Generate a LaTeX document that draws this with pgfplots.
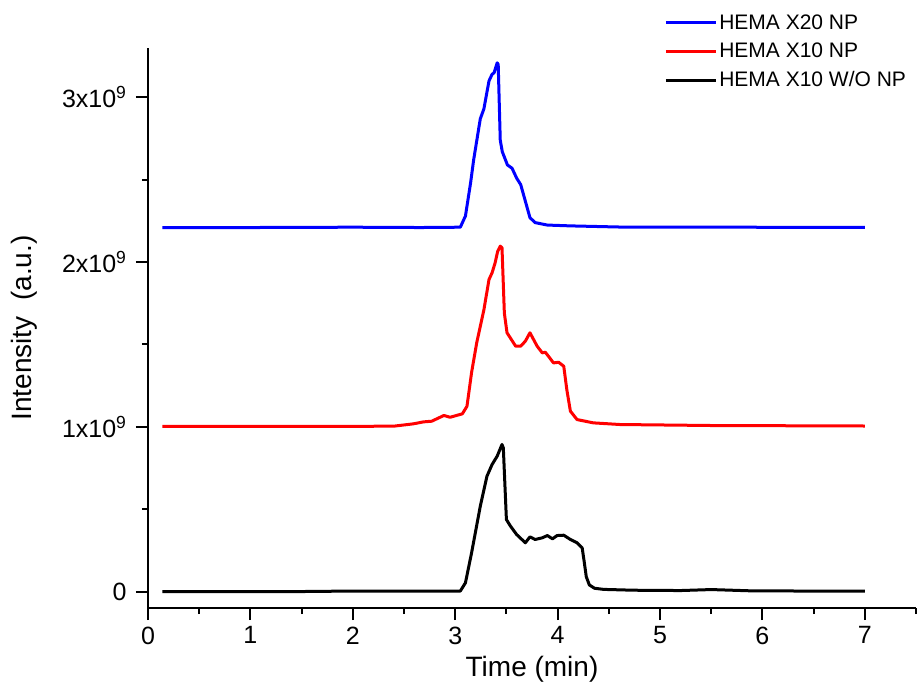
\documentclass[border=0pt]{standalone}
\usepackage{pgfplots}
\pgfplotsset{compat=1.18}
\usepackage{pgfplotstable}
\usepackage{fontspec}
\setmainfont{Liberation Sans}
\definecolor{cblue}{RGB}{0,0,255}
\definecolor{cred}{RGB}{255,0,0}
\pgfplotstableread{
x y
0.14 2.210
1.00 2.210
2.00 2.212
2.66 2.210
3.05 2.212
3.10 2.28
3.15 2.48
3.18 2.62
3.245 2.87
3.28 2.93
3.33 3.10
3.36 3.14
3.38 3.15
3.41 3.21
3.42 3.20
3.44 2.74
3.46 2.67
3.51 2.59
3.555 2.57
3.60 2.51
3.64 2.47
3.685 2.37
3.73 2.27
3.78 2.24
3.90 2.225
4.125 2.22
4.61 2.213
5.50 2.212
7.00 2.211
}\blueT
\pgfplotstableread{
x y
0.14 1.003
1.00 1.003
2.00 1.003
2.40 1.004
2.59 1.018
2.69 1.030
2.77 1.034
2.89 1.069
2.95 1.058
3.07 1.079
3.115 1.125
3.16 1.33
3.21 1.51
3.28 1.71
3.33 1.894
3.36 1.935
3.39 1.996
3.415 2.066
3.44 2.097
3.457 2.087
3.48 1.69
3.506 1.571
3.59 1.49
3.64 1.49
3.685 1.52
3.73 1.571
3.80 1.49
3.85 1.449
3.88 1.453
3.91 1.429
3.96 1.388
4.01 1.392
4.06 1.368
4.09 1.226
4.125 1.095
4.19 1.044
4.35 1.024
4.61 1.014
5.50 1.008
7.00 1.005
}\redT
\pgfplotstableread{
x y
0.14 0.000
1.50 0.000
2.00 0.003
2.46 0.003
3.05 0.003
3.10 0.053
3.16 0.235
3.245 0.518
3.31 0.700
3.36 0.771
3.41 0.822
3.457 0.893
3.47 0.872
3.50 0.437
3.54 0.397
3.60 0.346
3.685 0.296
3.73 0.332
3.78 0.316
3.85 0.326
3.90 0.340
3.95 0.320
3.995 0.340
4.06 0.342
4.125 0.316
4.19 0.296
4.24 0.265
4.26 0.180
4.28 0.090
4.31 0.040
4.36 0.020
4.45 0.013
4.74 0.008
5.20 0.006
5.50 0.012
5.90 0.004
7.00 0.002
}\blackT
\begin{document}
\begin{tikzpicture}
\begin{axis}[
  scale only axis, width=768pt, height=560pt,
  xmin=0, xmax=7.5, ymin=-0.1, ymax=3.3,
  axis x line*=bottom, axis y line*=left,
  axis line style={line width=2.2pt, black},
  tick style={line width=2pt, black},
  tick align=outside,
  major tick length=12pt, minor tick length=6pt,
  xtick={0,1,2,3,4,5,6,7},
  minor xtick={0.5,1.5,2.5,3.5,4.5,5.5,6.5,7.5},
  ytick={0,1,2,3},
  minor ytick={0.5,1.5,2.5},
  yticklabels={0,1x10\textsuperscript{9},2x10\textsuperscript{9},3x10\textsuperscript{9}},
  ticklabel style={font=\fontsize{25}{30}\selectfont},
  yticklabel style={xshift=-6pt},
  xticklabel style={yshift=-3pt},
  /pgf/number format/assume math mode=true,
  xlabel={Time (min)},
  ylabel={Intensity\ \ (a.u.)},
  xlabel style={yshift=-5pt},
  ylabel style={yshift=18pt},
  label style={font=\fontsize{28}{34}\selectfont},
  legend style={draw=none, fill=none, at={(axis description cs:0.672,1.064)}, anchor=north west,
    font=\fontsize{21}{25}\selectfont, row sep=8.5pt, inner sep=0pt,
    /tikz/every even column/.append style={column sep=6pt}},
  legend cell align=left,
  legend image code/.code={\draw[#1,line width=3pt] (0pt,0pt) -- (50pt,0pt);},
  every axis plot/.append style={line width=3pt, line join=round},
  clip=false,
]
\addplot[cblue, no marks] table {\blueT};
\addlegendentry{HEMA X20 NP}
\addplot[cred, no marks] table {\redT};
\addlegendentry{HEMA X10 NP}
\addplot[black, no marks] table {\blackT};
\addlegendentry{HEMA X10 W/O NP}
\end{axis}
\path (current axis.south west) ++(-148pt,-80pt);
\path (current axis.north east) ++(2pt,48pt);
\end{tikzpicture}
\end{document}
